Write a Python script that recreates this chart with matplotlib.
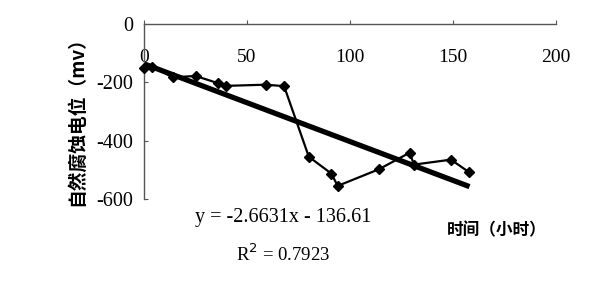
import matplotlib
matplotlib.use("Agg")
import matplotlib.pyplot as plt
import numpy as np

# Data
hours = [0, 4, 14, 25, 36, 40, 59, 68, 80, 91, 94, 114, 129, 131, 149, 158]
potential = [-152, -146, -183, -178, -203, -212, -208, -213, -455, -513, -555,
             -498, -441, -482, -465, -509]
slope = -2.6631
intercept = -136.61
r2 = 0.7923
x_ticks = [0, 50, 100, 150, 200]
y_ticks = [0, -200, -400, -600]

num_font = ["Liberation Serif", "DejaVu Serif"]
cjk_font = ["Noto Sans CJK SC", "DejaVu Sans"]

fig = plt.figure(figsize=(6.0, 2.91), dpi=100)
ax = fig.add_axes([0.24, 0.316, 0.6867, 0.6015])

# data series
ax.plot(hours, potential, color="black", lw=1.6, marker="D", ms=4.8,
        zorder=3, clip_on=False)
# linear trendline
tx = np.array([hours[0], hours[-1]], dtype=float)
ax.plot(tx, slope * tx + intercept, color="black", lw=3.8,
        solid_capstyle="butt", zorder=2)

ax.set_xlim(0, 200)
ax.set_ylim(-600, 0)
ax.set_xticks(x_ticks)
ax.set_yticks(y_ticks)
ax.set_xticklabels([str(v) for v in x_ticks])
ax.set_yticklabels([str(v) for v in y_ticks])

for s in ["bottom", "right"]:
    ax.spines[s].set_visible(False)
for s in ["top", "left"]:
    ax.spines[s].set_color("#555555")
    ax.spines[s].set_linewidth(1.0)

ax.tick_params(axis="x", top=True, bottom=False, labeltop=True,
               labelbottom=False, direction="out", length=3, pad=-33,
               color="#555555", labelsize=14)
ax.tick_params(axis="y", left=True, direction="in", length=3, pad=8,
               color="#555555", labelsize=14.5)
for lab in ax.get_xticklabels() + ax.get_yticklabels():
    lab.set_family(num_font)
for lab in ax.get_xticklabels():
    lab.set_va("bottom")

fig.text(0.128, 0.60, "自然腐蚀电位（mv）", rotation=90, ha="center",
         va="center", fontsize=13.5, family=cjk_font, fontweight="bold")
fig.text(0.828, 0.21, "时间（小时）", ha="center", va="center",
         fontsize=12, family=cjk_font, fontweight="bold")
fig.text(0.472, 0.252, "y = %.4fx - %.2f" % (slope, -intercept),
         ha="center", va="center", fontsize=14.5, family=num_font)
fig.text(0.472, 0.128, "R$^2$ = %.4f" % r2, ha="center", va="center",
         fontsize=13.5, family=num_font)

fig.savefig("out.png", dpi=100)
